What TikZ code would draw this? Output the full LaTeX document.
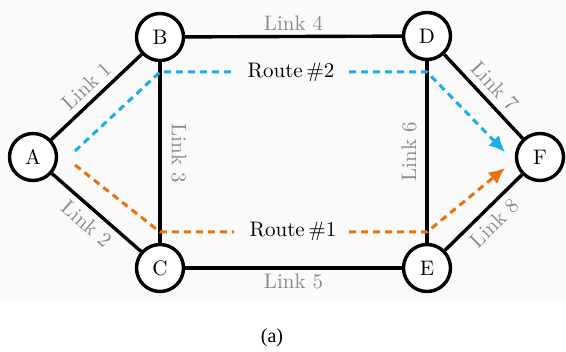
\documentclass[tikz,border=0pt]{standalone}
\usepackage{fontspec}
\setmainfont{lmroman10-regular.otf}
\newfontfamily\capfont{Liberation Serif}
\usetikzlibrary{arrows.meta}
\definecolor{routeblue}{HTML}{1AADE8}
\definecolor{routeorange}{HTML}{E8720C}
\definecolor{linkgray}{HTML}{8A8A8A}
\definecolor{bgpanel}{HTML}{FAFAFA}
\tikzset{
  vertex/.style={circle,draw=black,line width=3.4pt,fill=white,minimum size=47pt,inner sep=0pt,font=\fontsize{21}{24}\selectfont},
  link/.style={line width=3.4pt,draw=black},
  linklabel/.style={text=linkgray,font=\fontsize{21}{24}\selectfont,inner sep=6pt},
  routelabel/.style={text=black,font=\fontsize{21}{24}\selectfont,inner sep=0pt},
  routeB/.style={draw=routeblue,line width=3pt,dash pattern=on 7pt off 5pt},
  routeO/.style={draw=routeorange,line width=3pt,dash pattern=on 7pt off 5pt},
  tipB/.style={-{Latex[length=16pt,width=15pt]}},
}
\begin{document}
\begin{tikzpicture}[x=1pt,y=-1pt]
\useasboundingbox (0,0) rectangle (566,352);
\fill[bgpanel] (0,0) rectangle (566,300);
% nodes
\node[vertex] (A) at (33,157) {A};
\node[vertex] (B) at (160,37) {B};
\node[vertex] (C) at (160,268) {C};
\node[vertex] (D) at (427,36) {D};
\node[vertex] (E) at (427,268) {E};
\node[vertex] (F) at (540,157) {F};
% links
\draw[link] (A) -- node[linklabel,sloped,above] {Link 1} (B);
\draw[link] (A) -- node[linklabel,sloped,below] {Link 2} (C);
\draw[link] (B) -- (C);
\draw[link] (B) -- node[linklabel,above,pos=0.5,inner sep=4pt] {Link 4} (D);
\draw[link] (C) -- node[linklabel,below,pos=0.5,inner sep=4pt] {Link 5} (E);
\draw[link] (D) -- (E);
\draw[link] (D) -- node[linklabel,sloped,above] {Link 7} (F);
\draw[link] (E) -- node[linklabel,sloped,below] {Link 8} (F);
\node[linklabel,rotate=-90,inner sep=0pt] (L3) at (179,153) {Link 3};
\node[linklabel,rotate=90,inner sep=0pt] (L6) at (409,152) {Link 6};
% route labels
\node[routelabel] (R2) at (291,72) {Route\,\#2};
\node[routelabel] (R1) at (293,231) {Route\,\#1};
% route coordinates
\coordinate (b1) at (75,151);
\coordinate (b2) at (160,72);
\coordinate (b3) at (234,72);
\coordinate (b4) at (349,72);
\coordinate (b5) at (427,72);
\coordinate (b6) at (505,152);
\coordinate (o1) at (75,165);
\coordinate (o2) at (160,232);
\coordinate (o3) at (234,232);
\coordinate (o4) at (349,232);
\coordinate (o5) at (427,232);
\coordinate (o6) at (505,168);
\draw[routeB] (b1) -- (b2) -- (b3);
\draw[routeB,tipB] (b4) -- (b5) -- (b6);
\draw[routeO] (o1) -- (o2) -- (o3);
\draw[routeO,tipB] (o4) -- (o5) -- (o6);
% caption
\node[font=\capfont\fontsize{20}{23}\selectfont] (cap) at (272,338) {(a)};
\end{tikzpicture}
\end{document}
